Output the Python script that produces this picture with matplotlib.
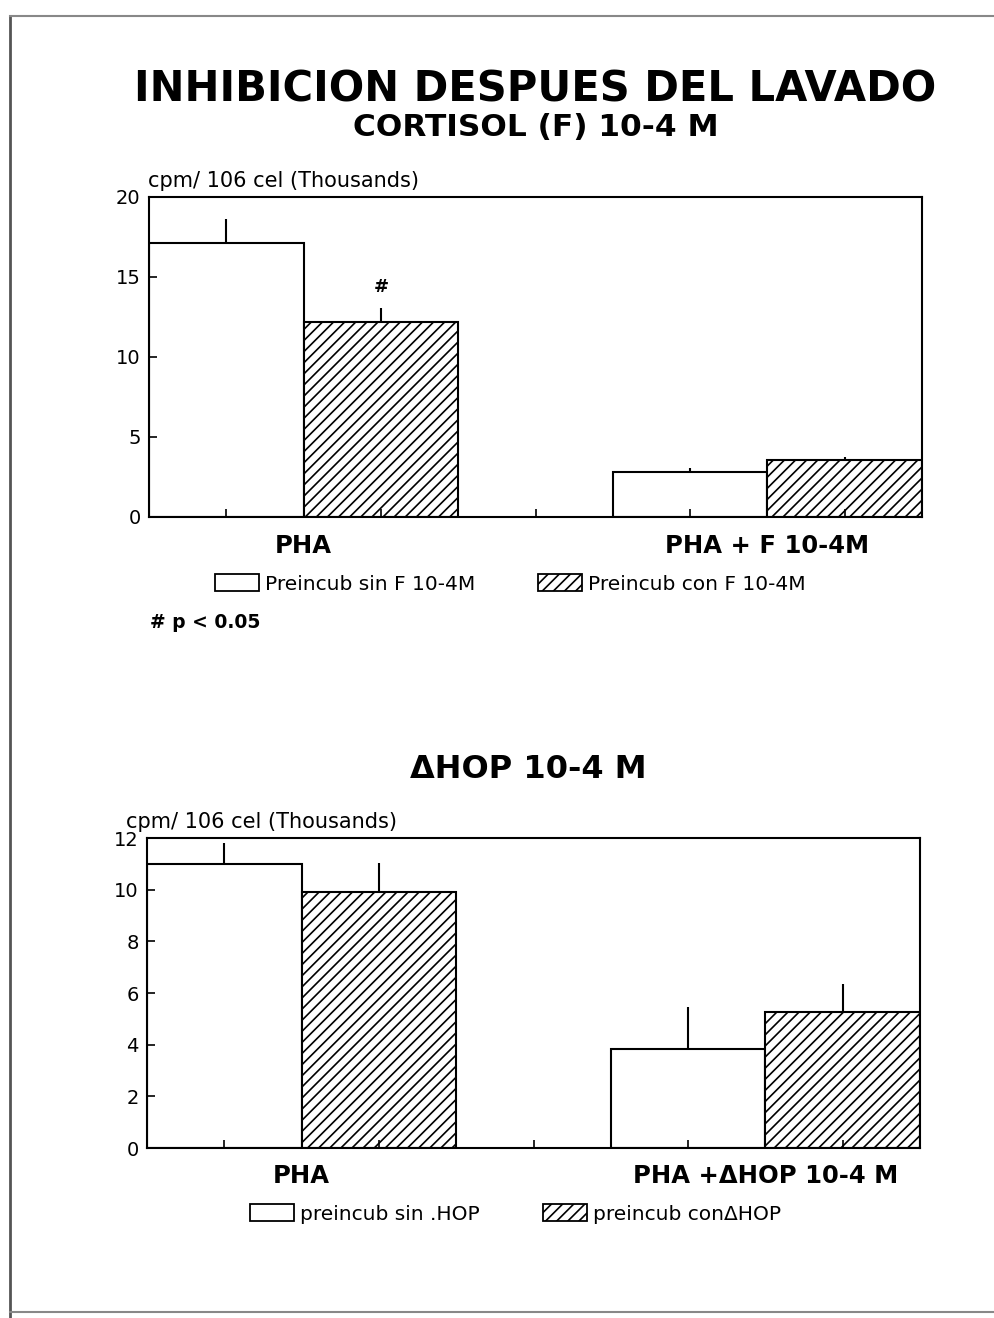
import matplotlib
matplotlib.use("Agg")
import matplotlib.pyplot as plt
import matplotlib.patches as mpatches
from matplotlib.lines import Line2D
import numpy as np

# bar positions: 0,1 = PHA group, 3,4 = second group (slot 2 left empty)
POSITIONS = [0, 1, 3, 4]
GROUP_X = [0.5, 3.5]

# Cortisol panel (thousands cpm)
CORT_MEANS = [17.1, 12.2, 2.8, 3.55]
CORT_ERR = [1.5, 0.85, 0.25, 0.2]
CORT_GROUPS = ["PHA", "PHA + F 10-4M"]
CORT_LEGEND = ["Preincub sin F 10-4M", "Preincub con F 10-4M"]

# Delta-HOP panel
HOP_MEANS = [11.0, 9.9, 3.85, 5.25]
HOP_ERR = [0.8, 1.15, 1.6, 1.1]
HOP_GROUPS = ["PHA", "PHA +\u0394HOP 10-4 M"]
HOP_LEGEND = ["preincub sin .HOP", "preincub con\u0394HOP"]

HATCH = "///"
HATCHES = [None, HATCH, None, HATCH]

plt.rcParams["font.family"] = "DejaVu Sans"
plt.rcParams["hatch.linewidth"] = 1.2

W, H = 995, 1318
fig = plt.figure(figsize=(W / 100, H / 100), dpi=100)


def fx(px):
    return px / W


def fy(py):
    return 1 - py / H


def draw_panel(rect, means, err, ymax, ystep, groups, legend, leg_xy):
    ax = fig.add_axes(rect)
    for pos, m, h in zip(POSITIONS, means, HATCHES):
        ax.bar(pos, m, width=1.0, facecolor="white", edgecolor="black",
               linewidth=1.5, hatch=h)
    ax.errorbar(POSITIONS, means, yerr=[np.zeros(len(err)), err],
                fmt="none", ecolor="black", elinewidth=1.5, capsize=0)
    ax.set_xlim(-0.5, 4.5)
    ax.set_ylim(0, ymax)
    ax.set_yticks(np.arange(0, ymax + 0.1, ystep))
    ax.set_xticks([0, 1, 2, 3, 4])
    ax.set_xticklabels([])
    ax.tick_params(direction="in", length=6, width=1.2, labelsize=14, pad=6)
    for s in ax.spines.values():
        s.set_linewidth(1.5)
    for gx, label in zip(GROUP_X, groups):
        ax.text(gx, -0.09, label, transform=ax.get_xaxis_transform(),
                ha="center", va="center", fontsize=17.5, fontweight="bold")
    handles = [mpatches.Patch(facecolor="white", edgecolor="black", linewidth=1.3),
               mpatches.Patch(facecolor="white", edgecolor="black", linewidth=1.3,
                              hatch=HATCH)]
    fig.legend(handles, legend, loc="center left",
               bbox_to_anchor=(fx(leg_xy[0]), fy(leg_xy[1])),
               ncol=2, frameon=False, fontsize=14.5, handlelength=2.2,
               handleheight=0.9, handletextpad=0.3, columnspacing=3.1,
               borderpad=0, borderaxespad=0)
    return ax


ax1 = draw_panel([fx(149), fy(517), fx(922 - 149), 320 / H],
                 CORT_MEANS, CORT_ERR, 20, 5, CORT_GROUPS,
                 CORT_LEGEND, (215, 584))
ax1.text(1, CORT_MEANS[1] + CORT_ERR[1] + 1.3, "#", ha="center", va="center",
         fontsize=13, fontweight="bold")

ax2 = draw_panel([fx(147), fy(1148), fx(920 - 147), 310 / H],
                 HOP_MEANS, HOP_ERR, 12, 2, HOP_GROUPS,
                 HOP_LEGEND, (250, 1214))

# titles and annotations
fig.text(fx(535), fy(90), "INHIBICION DESPUES DEL LAVADO", ha="center",
         va="center", fontsize=30, fontweight="bold")
fig.text(fx(536), fy(128), "CORTISOL (F) 10-4 M", ha="center", va="center",
         fontsize=22.5, fontweight="bold")
fig.text(fx(528), fy(770), "\u0394HOP 10-4 M", ha="center", va="center",
         fontsize=23, fontweight="bold")
fig.text(fx(148), fy(181), "cpm/ 106 cel (Thousands)", ha="left", va="center",
         fontsize=15)
fig.text(fx(126), fy(822), "cpm/ 106 cel (Thousands)", ha="left", va="center",
         fontsize=15)
fig.text(fx(150), fy(623), "# p < 0.05", ha="left", va="center",
         fontsize=13.5, fontweight="bold")

# scanned page border
fig.add_artist(Line2D([fx(10), fx(10)], [fy(16), fy(1318)], color="#555555", lw=2))
fig.add_artist(Line2D([fx(10), fx(995)], [fy(16), fy(16)], color="#888888", lw=1.5))
fig.add_artist(Line2D([fx(10), fx(995)], [fy(1312), fy(1312)], color="#888888", lw=1.5))

fig.savefig("out.png", dpi=100)
